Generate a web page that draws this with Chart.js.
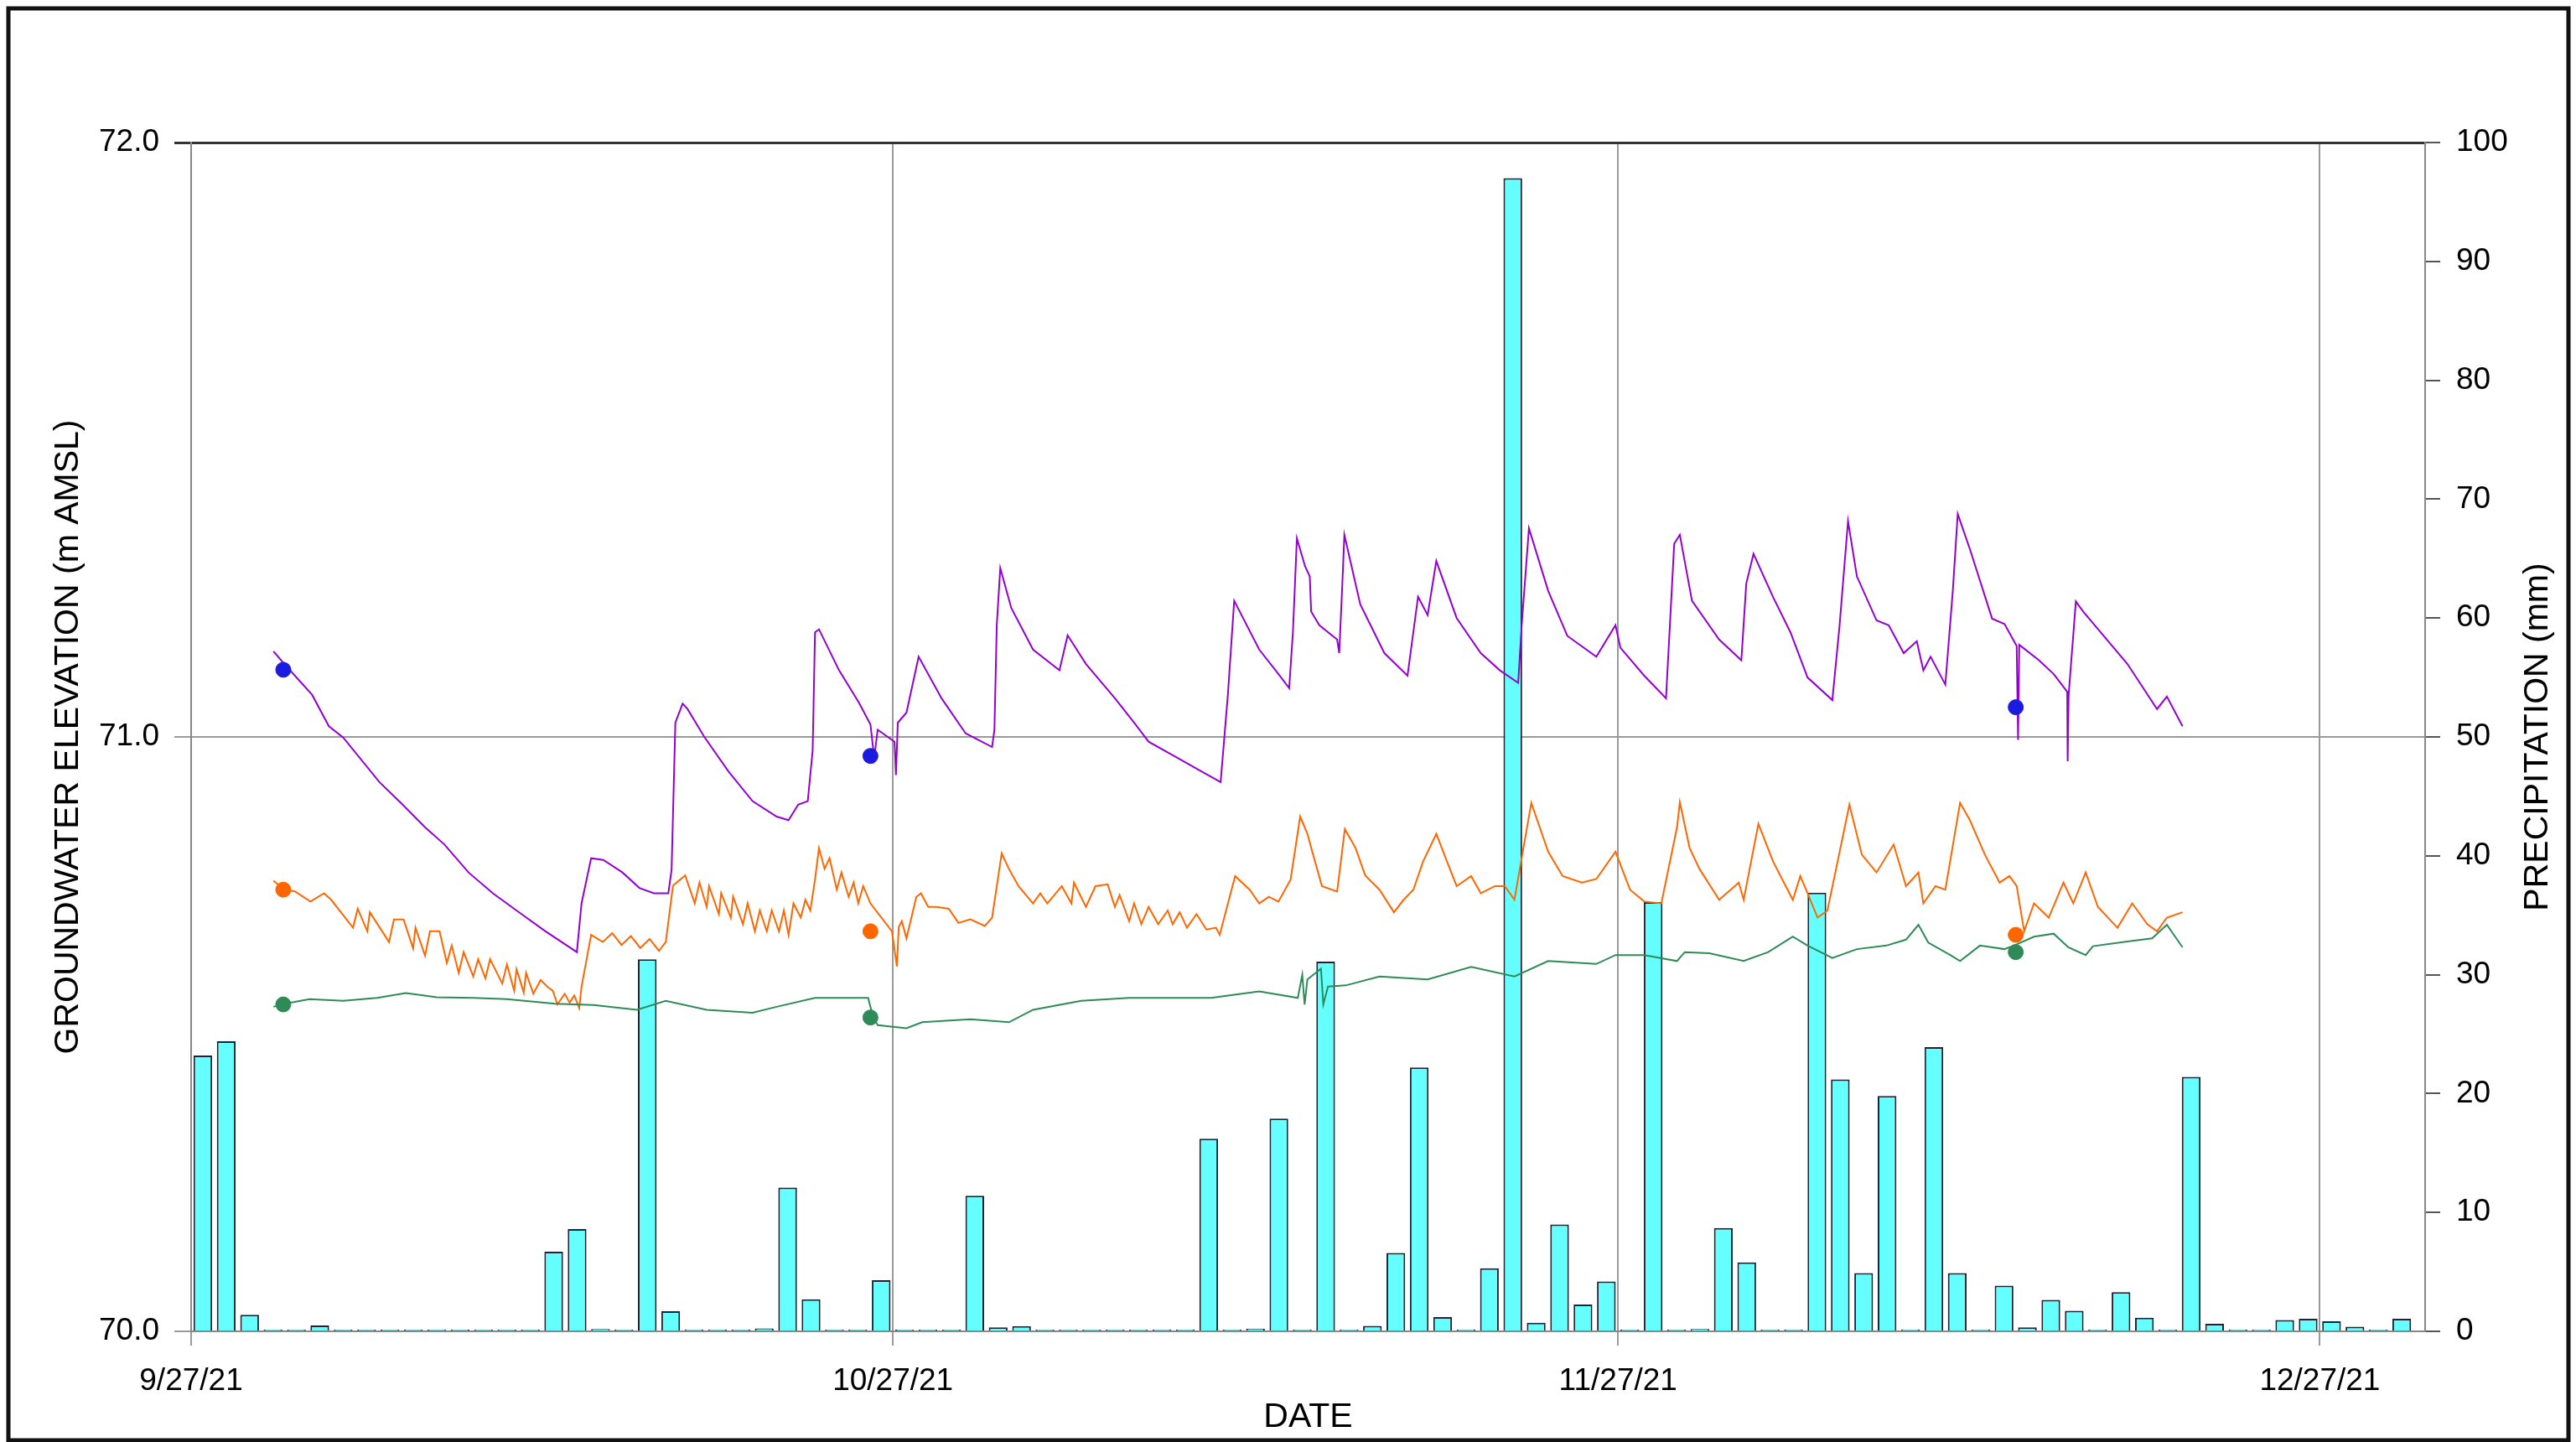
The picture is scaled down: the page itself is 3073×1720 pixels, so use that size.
<html lang="en">
<head>
  <meta charset="UTF-8">
  <title>Groundwater elevation and precipitation</title>
  <script src="https://cdn.jsdelivr.net/npm/chart.js"></script>
  <style>
    body { margin: 0; background: #fff; }
    canvas { display: block; }
  </style>
</head>
<body>
  <canvas id="gwChart" width="3073" height="1720"></canvas>

  <script>
    // x values are days after 9/27/21
    const xTickDays = [0, 30, 61, 91];
    const xTickLabels = ['9/27/21', '10/27/21', '11/27/21', '12/27/21'];

    // daily precipitation (mm), one value per day starting 9/27/21
    const precipMm = [
      23.2, 24.4, 1.4, 0, 0, 0.5, 0, 0, 0, 0,
      0, 0, 0, 0, 0, 6.7, 8.6, 0.2, 0, 31.3,
      1.7, 0, 0.1, 0, 0.25, 12.1, 2.7, 0, 0, 4.3,
      0, 0, 0, 11.4, 0.33, 0.44, 0.1, 0, 0, 0,
      0, 0, 0, 16.2, 0, 0.23, 17.9, 0.05, 31.1, 0.1,
      0.46, 6.6, 22.2, 1.2, 0, 5.3, 97.0, 0.72, 9.0, 2.26,
      4.2, 0, 36.1, 0.1, 0.2, 8.7, 5.8, 0, 0, 36.9,
      21.2, 4.9, 19.8, 0, 23.9, 4.9, 0, 3.85, 0.33, 2.64,
      1.72, 0, 3.3, 1.15, 0, 21.4, 0.64, 0, 0, 0.95,
      1.05, 0.85, 0.38, 0, 1.05
    ];
    const precipDays = precipMm.map((v, i) => i);

    // logger records (m AMSL)
    const purpleDays = [3.52, 4.0, 5.17, 5.89, 6.5, 8.05, 8.97, 10.0, 10.83, 11.86, 12.9, 14.12, 15.15, 16.49, 16.69, 17.1,
      17.62, 18.44, 19.16, 19.78, 20.4, 20.54, 20.7, 21.01, 21.22, 21.94, 22.97, 24.0, 25.03, 25.54, 25.95, 26.36,
      26.57, 26.67, 26.84, 27.7, 28.53, 29.04, 29.2, 29.35, 30.07, 30.13, 30.21, 30.58, 31.1, 32.08, 33.11, 34.24,
      34.34, 34.44, 34.59, 35.06, 35.99, 37.12, 37.47, 38.25, 39.49, 40.31, 40.93, 42.16, 43.19, 44.01, 44.32, 44.59,
      45.66, 46.48, 46.94, 47.1, 47.27, 47.62, 47.82, 47.88, 48.23, 48.99, 49.08, 49.2, 49.3, 49.98, 51.01, 52.0,
      52.45, 52.86, 53.23, 54.1, 55.13, 55.95, 56.73, 56.88, 57.19, 58.01, 58.83, 60.07, 60.89, 61.1, 62.12, 63.05,
      63.4, 63.64, 64.16, 65.32, 66.27, 66.48, 66.79, 67.63, 68.37, 69.1, 70.16, 70.47, 70.83, 71.21, 72.05, 72.57,
      73.21, 73.77, 74.05, 74.36, 74.99, 75.31, 75.52, 76.04, 76.99, 77.52, 78.04, 78.1, 78.15, 78.99, 79.62, 80.2,
      80.22, 80.26, 80.57, 80.88, 82.77, 84.04, 84.46, 85.13];
    const purpleElev = [71.144, 71.122, 71.071, 71.018, 70.999, 70.924, 70.889, 70.848, 70.819, 70.772, 70.737, 70.702, 70.673, 70.638, 70.72, 70.796,
      70.793, 70.772, 70.746, 70.737, 70.737, 70.777, 71.024, 71.056, 71.047, 71.0, 70.942, 70.892, 70.866, 70.86, 70.886, 70.892,
      70.977, 71.176, 71.181, 71.112, 71.059, 71.021, 70.965, 71.012, 70.992, 70.936, 71.024, 71.041, 71.135, 71.065, 71.006, 70.983,
      71.012, 71.188, 71.284, 71.217, 71.147, 71.112, 71.171, 71.123, 71.065, 71.024, 70.992, 70.965, 70.942, 70.924, 71.071, 71.229,
      71.147, 71.106, 71.082, 71.176, 71.334, 71.287, 71.27, 71.211, 71.188, 71.164, 71.141, 71.246, 71.34, 71.223, 71.141, 71.103,
      71.236, 71.205, 71.296, 71.2, 71.141, 71.112, 71.091, 71.188, 71.351, 71.246, 71.17, 71.135, 71.188, 71.15, 71.103, 71.065,
      71.325, 71.34, 71.229, 71.164, 71.129, 71.258, 71.308, 71.235, 71.176, 71.1, 71.062, 71.188, 71.363, 71.27, 71.196, 71.188,
      71.141, 71.161, 71.112, 71.135, 71.088, 71.246, 71.375, 71.316, 71.199, 71.19, 71.153, 70.995, 71.155, 71.129, 71.106, 71.076,
      70.959, 71.07, 71.228, 71.211, 71.123, 71.047, 71.068, 71.018];

    const orangeDays = [3.52, 4.0, 4.45, 5.1, 5.68, 5.99, 6.92, 7.12, 7.53, 7.64, 8.46, 8.67, 9.08, 9.49, 9.59, 10.0,
      10.21, 10.62, 10.93, 11.14, 11.44, 11.65, 12.06, 12.27, 12.58, 12.78, 13.3, 13.5, 13.81, 13.91, 14.22, 14.32,
      14.63, 14.94, 15.25, 15.46, 15.66, 15.97, 16.18, 16.38, 16.59, 16.69, 17.1, 17.6, 18.0, 18.4, 18.8, 19.2,
      19.6, 20.0, 20.29, 20.6, 21.12, 21.53, 21.73, 22.04, 22.14, 22.56, 22.66, 23.07, 23.17, 23.59, 23.79, 24.1,
      24.31, 24.61, 24.82, 25.13, 25.34, 25.54, 25.75, 26.06, 26.26, 26.47, 26.67, 26.84, 27.08, 27.29, 27.6, 27.8,
      28.11, 28.32, 28.52, 28.73, 29.04, 29.96, 30.17, 30.25, 30.38, 30.58, 31.0, 31.2, 31.51, 31.87, 32.39, 32.8,
      33.31, 33.93, 34.24, 34.65, 34.96, 35.37, 35.99, 36.3, 36.6, 37.22, 37.63, 37.74, 38.25, 38.66, 39.18, 39.49,
      39.69, 40.1, 40.31, 40.62, 40.93, 41.34, 41.75, 41.96, 42.26, 42.57, 42.98, 43.4, 43.81, 43.97, 44.63, 45.25,
      45.66, 46.07, 46.48, 47.0, 47.41, 47.72, 47.92, 48.34, 48.99, 49.32, 49.78, 50.19, 50.8, 51.42, 51.83, 52.25,
      52.66, 53.23, 53.69, 54.1, 54.72, 55.13, 55.74, 56.16, 56.57, 57.29, 58.01, 58.63, 59.45, 60.07, 60.89, 61.51,
      62.12, 62.85, 63.52, 63.64, 64.06, 64.48, 65.32, 66.16, 66.37, 67.0, 67.63, 68.47, 68.79, 69.1, 69.53, 69.95,
      70.89, 71.42, 72.05, 72.78, 73.31, 73.84, 74.05, 74.57, 74.99, 75.62, 76.04, 76.68, 77.31, 77.73, 78.04, 78.36,
      78.78, 79.41, 80.04, 80.46, 80.99, 81.51, 82.35, 82.98, 83.62, 84.04, 84.46, 85.13];
    const orangeElev = [70.758, 70.743, 70.74, 70.723, 70.737, 70.726, 70.679, 70.711, 70.673, 70.705, 70.655, 70.693, 70.693, 70.644, 70.679, 70.632,
      70.673, 70.673, 70.62, 70.649, 70.603, 70.638, 70.597, 70.626, 70.594, 70.626, 70.585, 70.617, 70.573, 70.609, 70.57, 70.603,
      70.568, 70.591, 70.579, 70.573, 70.55, 70.568, 70.553, 70.565, 70.544, 70.58, 70.667, 70.655, 70.67, 70.65, 70.665, 70.645,
      70.66, 70.64, 70.655, 70.75, 70.767, 70.72, 70.755, 70.714, 70.749, 70.702, 70.737, 70.696, 70.731, 70.685, 70.72, 70.673,
      70.708, 70.673, 70.708, 70.673, 70.708, 70.667, 70.72, 70.696, 70.726, 70.708, 70.76, 70.813, 70.778, 70.796, 70.743, 70.772,
      70.731, 70.755, 70.72, 70.749, 70.72, 70.673, 70.614, 70.68, 70.69, 70.661, 70.731, 70.737, 70.714, 70.714, 70.711, 70.687,
      70.693, 70.682, 70.696, 70.804, 70.778, 70.749, 70.72, 70.737, 70.72, 70.749, 70.72, 70.755, 70.714, 70.749, 70.752, 70.714,
      70.734, 70.69, 70.72, 70.685, 70.714, 70.685, 70.708, 70.685, 70.705, 70.679, 70.702, 70.676, 70.679, 70.667, 70.766, 70.743,
      70.72, 70.731, 70.723, 70.76, 70.866, 70.837, 70.808, 70.749, 70.74, 70.845, 70.813, 70.767, 70.743, 70.705, 70.726, 70.743,
      70.79, 70.837, 70.79, 70.749, 70.766, 70.737, 70.749, 70.749, 70.726, 70.889, 70.807, 70.766, 70.755, 70.761, 70.807, 70.743,
      70.723, 70.72, 70.848, 70.89, 70.813, 70.778, 70.726, 70.755, 70.726, 70.854, 70.79, 70.726, 70.766, 70.737, 70.696, 70.708,
      70.886, 70.802, 70.772, 70.819, 70.749, 70.772, 70.72, 70.749, 70.743, 70.889, 70.86, 70.802, 70.755, 70.766, 70.749, 70.673,
      70.72, 70.696, 70.755, 70.72, 70.772, 70.714, 70.679, 70.72, 70.685, 70.673, 70.696, 70.705];

    const greenDays = [3.52, 4.0, 5.06, 6.5, 7.95, 9.18, 10.5, 12.06, 13.5, 15.56, 17.2, 19.06, 20.29, 22.04, 24.0, 25.03,
      26.67, 28.94, 29.14, 29.35, 30.58, 31.25, 33.31, 34.96, 35.99, 38.05, 40.1, 42.16, 43.6, 45.66, 47.31, 47.5,
      47.6, 47.72, 48.3, 48.4, 48.6, 49.36, 50.8, 52.86, 54.72, 56.57, 58.01, 60.07, 60.89, 62.12, 63.52, 63.85,
      64.9, 66.37, 67.42, 68.47, 69.1, 70.16, 71.21, 72.47, 73.31, 73.84, 74.26, 75.2, 75.62, 76.47, 77.52, 78.04,
      78.78, 79.62, 80.25, 80.99, 81.3, 82.77, 83.83, 84.46, 85.13];
    const greenElev = [70.546, 70.551, 70.559, 70.556, 70.561, 70.569, 70.562, 70.561, 70.559, 70.551, 70.549, 70.541, 70.556, 70.541, 70.536, 70.546,
      70.561, 70.561, 70.531, 70.515, 70.51, 70.52, 70.525, 70.52, 70.541, 70.556, 70.561, 70.561, 70.561, 70.572, 70.561, 70.6,
      70.55, 70.592, 70.61, 70.55, 70.58, 70.582, 70.597, 70.592, 70.613, 70.597, 70.623, 70.618, 70.633, 70.633, 70.623, 70.638,
      70.636, 70.623, 70.638, 70.664, 70.649, 70.628, 70.643, 70.649, 70.659, 70.684, 70.654, 70.633, 70.623, 70.649, 70.643, 70.651,
      70.664, 70.669, 70.646, 70.633, 70.648, 70.656, 70.661, 70.684, 70.646];

    // manual water level measurements
    const manualDays = [3.94, 29.04, 78.0];
    const manualPurple = [71.113, 70.968, 71.05];
    const manualOrange = [70.743, 70.673, 70.667];
    const manualGreen = [70.55, 70.528, 70.638];

    const pts = (xs, ys) => xs.map((x, i) => ({ x: x, y: ys[i] }));
    const fontFamily = "'Liberation Sans', Arial, sans-serif";

    const paperFrame = {
      id: 'paperFrame',
      beforeDraw(chart) {
        const ctx = chart.ctx;
        ctx.save();
        ctx.fillStyle = '#ffffff';
        ctx.fillRect(0, 0, chart.width, chart.height);
        ctx.restore();
      },
      afterDraw(chart) {
        const ctx = chart.ctx;
        const area = chart.chartArea;
        ctx.save();
        ctx.strokeStyle = '#111';
        ctx.lineWidth = 5;
        ctx.strokeRect(10, 10, chart.width - 19, chart.height - 12);
        // right title reads bottom to top, like the left one
        ctx.translate(3028, (area.top + area.bottom) / 2);
        ctx.rotate(-Math.PI / 2);
        ctx.fillStyle = '#000';
        ctx.font = '41px ' + fontFamily;
        ctx.textAlign = 'center';
        ctx.textBaseline = 'middle';
        ctx.fillText('PRECIPITATION (mm)', 0, 0);
        ctx.restore();
      }
    };

    let chart1 = new Chart(document.getElementById('gwChart').getContext('2d'), {
      type: 'line',
      data: {
        datasets: [
          {
            type: 'bar',
            label: 'Precipitation',
            data: pts(precipDays.map(d => d + 0.5), precipMm),
            yAxisID: 'y2',
            backgroundColor: '#66FFFF',
            borderColor: '#1c2436',
            borderWidth: 2,
            barPercentage: 0.8,
            categoryPercentage: 1.0,
            minBarLength: 2,
            order: 10
          },
          {
            label: 'Purple well',
            data: pts(purpleDays, purpleElev),
            borderColor: '#9400D3',
            borderWidth: 2,
            pointRadius: 0,
            tension: 0,
            yAxisID: 'y',
            order: 3
          },
          {
            label: 'Orange well',
            data: pts(orangeDays, orangeElev),
            borderColor: '#FF6600',
            borderWidth: 2,
            pointRadius: 0,
            tension: 0,
            yAxisID: 'y',
            order: 2
          },
          {
            label: 'Green well',
            data: pts(greenDays, greenElev),
            borderColor: '#2E8B57',
            borderWidth: 2,
            pointRadius: 0,
            tension: 0,
            yAxisID: 'y',
            order: 1
          },
          {
            type: 'scatter',
            label: 'Purple manual',
            data: pts(manualDays, manualPurple),
            backgroundColor: '#1a1ae0',
            borderColor: '#1a1ae0',
            pointRadius: 9,
            yAxisID: 'y',
            order: 0
          },
          {
            type: 'scatter',
            label: 'Orange manual',
            data: pts(manualDays, manualOrange),
            backgroundColor: '#FF6600',
            borderColor: '#FF6600',
            pointRadius: 9,
            yAxisID: 'y',
            order: 0
          },
          {
            type: 'scatter',
            label: 'Green manual',
            data: pts(manualDays, manualGreen),
            backgroundColor: '#2E8B57',
            borderColor: '#2E8B57',
            pointRadius: 9,
            yAxisID: 'y',
            order: 0
          }
        ]
      },
      options: {
        responsive: false,
        animation: false,
        devicePixelRatio: 1,
        layout: { padding: { left: 14, right: 14, top: 170, bottom: 4 } },
        plugins: {
          legend: { display: false },
          tooltip: { enabled: false }
        },
        scales: {
          x: {
            type: 'linear',
            min: 0,
            max: 95.5,
            offset: false,
            afterBuildTicks: s => { s.ticks = xTickDays.map(v => ({ value: v })); },
            afterFit: s => { s.height = 128; },
            ticks: {
              autoSkip: false,
              maxRotation: 0,
              padding: 21,
              color: '#000',
              font: { family: fontFamily, size: 37 },
              callback: (v, i) => xTickLabels[i]
            },
            grid: { offset: false, color: '#9a9a9a', lineWidth: 2, tickLength: 17 },
            border: { color: '#888', width: 2 },
            title: {
              display: true,
              text: 'DATE',
              color: '#000',
              font: { family: fontFamily, size: 41 },
              padding: { top: 0, bottom: 1 }
            }
          },
          y: {
            position: 'left',
            min: 70,
            max: 72,
            afterFit: s => { s.width = 214; },
            ticks: {
              stepSize: 1,
              padding: 18,
              color: '#000',
              font: { family: fontFamily, size: 37 },
              callback: v => v.toFixed(1)
            },
            grid: {
              color: c => (c.tick && c.tick.value === 72 ? '#333' : '#9a9a9a'),
              lineWidth: c => (c.tick && c.tick.value === 72 ? 3 : 2),
              tickLength: 20
            },
            border: { color: '#888', width: 2 },
            title: {
              display: true,
              text: 'GROUNDWATER ELEVATION (m AMSL)',
              color: '#000',
              font: { family: fontFamily, size: 41 },
              padding: { top: 43, bottom: 0 }
            }
          },
          y2: {
            position: 'right',
            min: 0,
            max: 100,
            afterFit: s => { s.width = 166; },
            ticks: {
              stepSize: 10,
              padding: 19,
              color: '#000',
              font: { family: fontFamily, size: 37 }
            },
            grid: { drawOnChartArea: false, color: '#555', lineWidth: 2, tickLength: 18 },
            border: { color: '#888', width: 2 }
          }
        }
      },
      plugins: [paperFrame]
    });
  </script>
</body>
</html>
